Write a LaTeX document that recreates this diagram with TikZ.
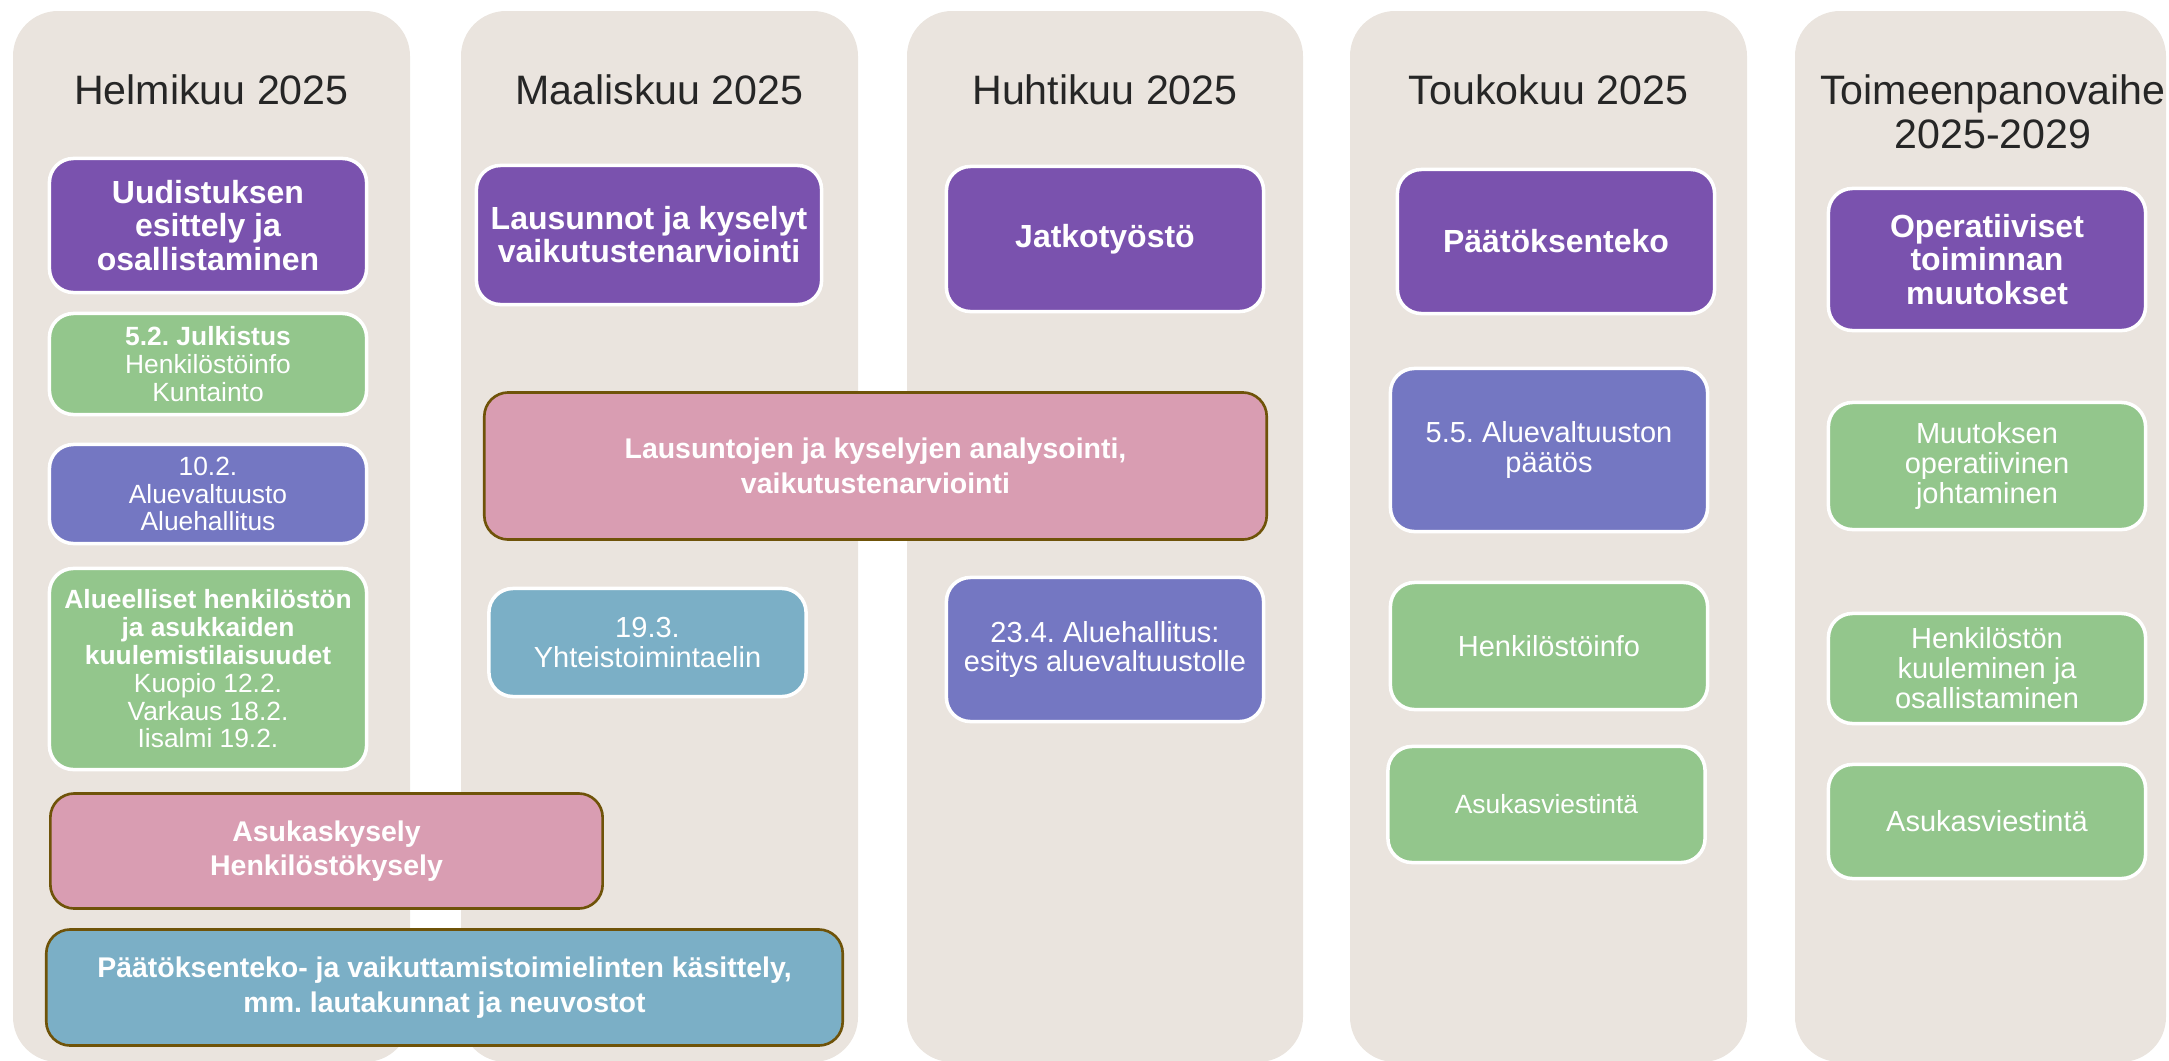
\documentclass[tikz,border=0pt]{standalone}
\usepackage{fontspec}
\setmainfont{Liberation Sans}
\frenchspacing
\definecolor{colbg}{HTML}{EAE4DE}
\definecolor{phase}{HTML}{7A52AE}
\definecolor{info}{HTML}{93C68C}
\definecolor{decision}{HTML}{7477C2}
\definecolor{survey}{HTML}{D99DB2}
\definecolor{organ}{HTML}{7BAFC6}
\definecolor{rim}{HTML}{6F5309}
\definecolor{headtext}{HTML}{262626}
\tikzset{
  monthcol/.style={fill=colbg,rounded corners=0.45cm},
  month/.style={font=\fontsize{11.7}{12.5}\selectfont,text=headtext,align=center,inner sep=0pt},
  card/.style={draw=white,line width=1pt,rounded corners=0.24cm,text=white,align=center,
    inner sep=2pt,minimum width=3.17cm,font=\fontsize{8.25}{8.5}\selectfont},
  smallcard/.style={card,font=\fontsize{7.5}{7.9}\selectfont},
  phasecard/.style={card,fill=phase,font=\bfseries\fontsize{9.1}{9.4}\selectfont},
  widecard/.style={draw=rim,line width=0.75pt,rounded corners=0.24cm,text=white,align=center,
    font=\bfseries\fontsize{8.1}{9.8}\selectfont}
}

\begin{document}
\begin{tikzpicture}[x=0.01cm,y=-0.01cm]
  \useasboundingbox (0,0) rectangle (2169,1060);
  % month columns
  \fill[monthcol] (13,11) rectangle (410,1062);
  \fill[monthcol] (461,11) rectangle (858,1062);
  \fill[monthcol] (907,11) rectangle (1303,1062);
  \fill[monthcol] (1350,11) rectangle (1747,1062);
  \fill[monthcol] (1795,11) rectangle (2166,1062);
  \node[month,anchor=base] (hfeb) at (211.5,104) {Helmikuu 2025};
  \node[month,anchor=base] (hmar) at (659.5,104) {Maaliskuu 2025};
  \node[month,anchor=base] (hapr) at (1105,104) {Huhtikuu 2025};
  \node[month,anchor=base] (hmay) at (1548.5,104) {Toukokuu 2025};
  \node[month,anchor=base] (himpl) at (1993,148) {Toimeenpanovaihe\\2025-2029};
  % helmikuu
  \node[phasecard,minimum height=1.34cm] (uud) at (208,225.5) {Uudistuksen\\esittely ja\\osallistaminen};
  \node[smallcard,fill=info,minimum height=1.01cm] (julk) at (208,364) {\textbf{5.2. Julkistus}\\Henkilöstöinfo\\Kuntainto};
  \node[smallcard,fill=decision,minimum height=0.99cm] (aval) at (208,494) {10.2.\\Aluevaltuusto\\Aluehallitus};
  \node[smallcard,fill=info,minimum height=2.01cm] (kuul) at (208,669)
    {\textbf{Alueelliset henkilöstön}\\\textbf{ja asukkaiden}\\\textbf{kuulemistilaisuudet}\\Kuopio 12.2.\\Varkaus 18.2.\\Iisalmi 19.2.};
  \node[widecard,fill=survey,minimum width=5.52cm,minimum height=1.15cm] (asuk) at (326.5,851) {Asukaskysely\\Henkilöstökysely};
  \node[widecard,fill=organ,minimum width=7.96cm,minimum height=1.16cm] (kasit) at (444.5,987.5)
    {Päätöksenteko- ja vaikuttamistoimielinten käsittely,\\mm. lautakunnat ja neuvostot};
  % maaliskuu
  \node[phasecard,minimum width=3.45cm,minimum height=1.39cm] (laus) at (649,235) {Lausunnot ja kyselyt\\vaikutustenarviointi};
  \node[widecard,fill=survey,minimum width=7.82cm,minimum height=1.47cm] (analys) at (875.5,466)
    {Lausuntojen ja kyselyjen analysointi,\\vaikutustenarviointi};
  \node[card,fill=organ,minimum height=1.08cm] (yhteis) at (647.5,642.5) {19.3.\\Yhteistoimintaelin};
  % huhtikuu
  \node[phasecard,minimum height=1.45cm] (jatko) at (1105,239) {Jatkotyöstö};
  \node[card,fill=decision,minimum height=1.44cm] (ahesit) at (1105,649.5) {23.4. Aluehallitus:\\esitys aluevaltuustolle};
  % toukokuu
  \node[phasecard,minimum height=1.44cm] (paat) at (1556,241.5) {Päätöksenteko};
  \node[card,fill=decision,minimum height=1.63cm] (avpaat) at (1549,450) {5.5. Aluevaltuuston\\päätös};
  \node[card,fill=info,minimum height=1.27cm] (hinfo) at (1549,646) {Henkilöstöinfo};
  \node[smallcard,fill=info,minimum height=1.16cm] (aviest) at (1546.5,804.5) {Asukasviestintä};
  % toimeenpano
  \node[phasecard,minimum height=1.42cm] (oper) at (1987,259.5) {Operatiiviset\\toiminnan\\muutokset};
  \node[card,fill=info,minimum height=1.27cm] (mjoht) at (1987,466) {Muutoksen\\operatiivinen\\johtaminen};
  \node[card,fill=info,minimum height=1.10cm] (hkuul) at (1987,668.5) {Henkilöstön\\kuuleminen ja\\osallistaminen};
  \node[card,fill=info,minimum height=1.14cm] (aviest2) at (1987,821.5) {Asukasviestintä};
\end{tikzpicture}
\end{document}
